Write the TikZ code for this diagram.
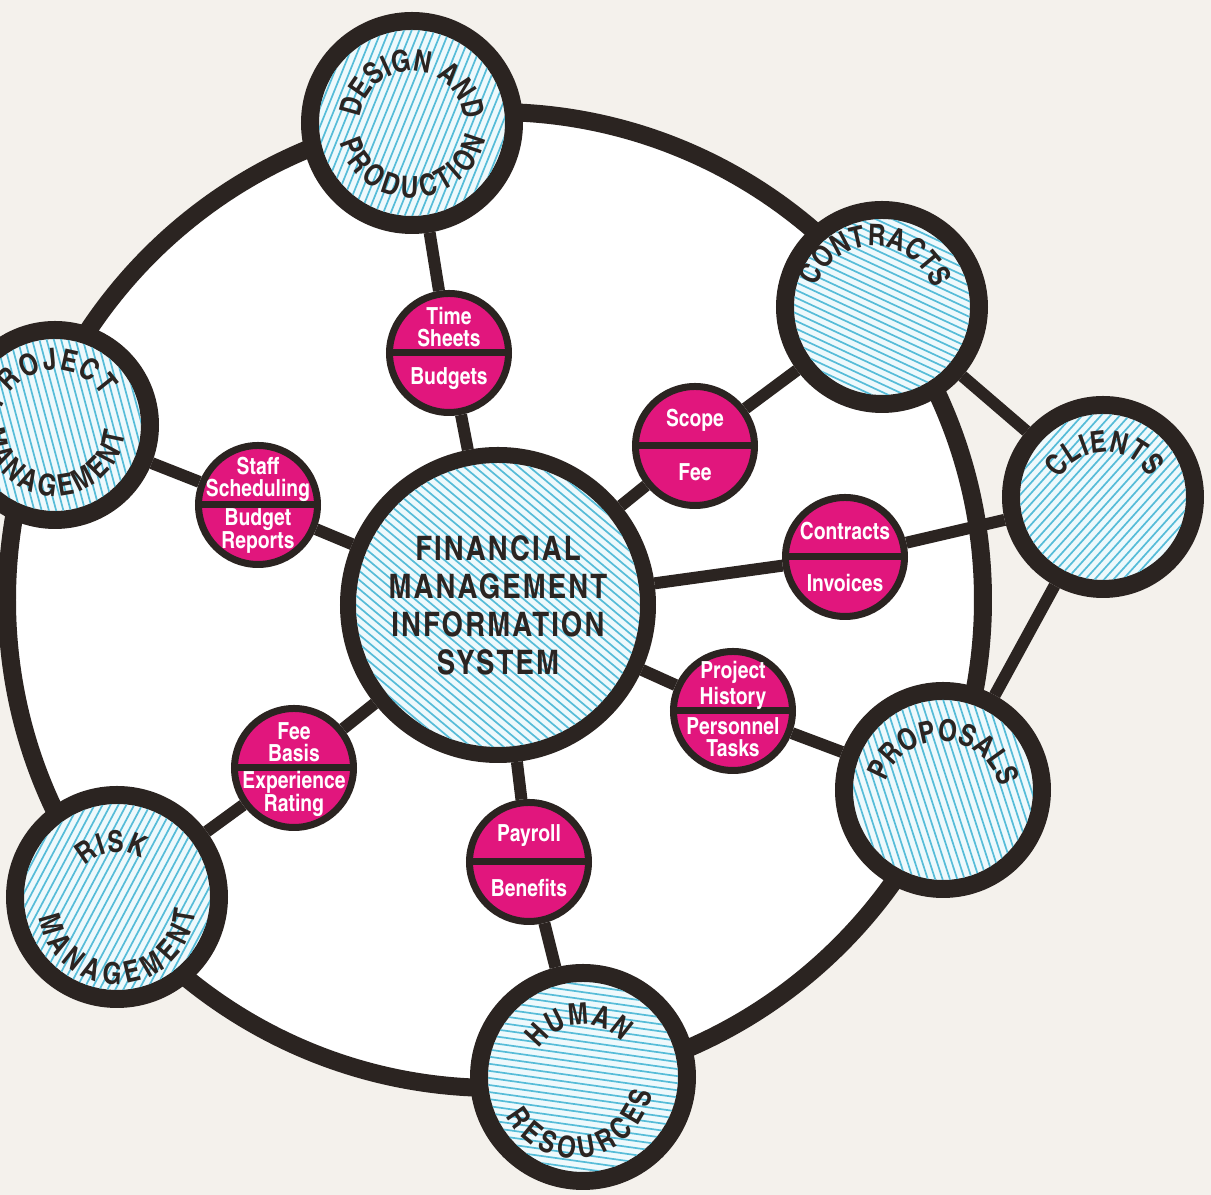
\documentclass[tikz,border=0pt]{standalone}
\usepackage{fontspec}
\usepackage{tikz}
\usetikzlibrary{decorations.text}
\definecolor{ink}{RGB}{43,36,33}
\definecolor{tagpink}{RGB}{225,22,125}
\definecolor{hatch}{RGB}{86,188,216}
\definecolor{hatchbg}{RGB}{238,249,252}
\definecolor{paper}{RGB}{244,241,236}
\newfontfamily\cnbold{texgyreheroscn-bold.otf}
\newfontfamily\cnwide{texgyreheroscn-bold.otf}[LetterSpace=6]
\newcommand\arcfont{\cnbold\fontsize{8.5}{10}\selectfont\color{ink}}
% stripes inside a round node: node, angle, inner radius
\newcommand\hatchfill[3]{%
    \begin{scope}[shift={(#1.center)}, rotate=#2]
        \clip (0,0) circle[radius=#3];
        \foreach \k in {-24,...,24}
            \draw[hatch, line width=0.017cm] (-1.6,\k*0.07) -- (1.6,\k*0.07);
    \end{scope}}

\begin{document}
\begin{tikzpicture}[
    rim/.style={draw=ink, line width=0.18cm, fill=white},
    link/.style={draw=ink, line width=0.12cm},
    dept/.style={circle, draw=ink, line width=0.18cm, inner sep=0pt, fill=hatchbg},
    hub/.style={circle, draw=ink, line width=0.16cm, inner sep=0pt, minimum size=3cm, fill=hatchbg},
    hubtext/.style={text=ink, align=center, inner sep=0pt, font=\cnwide\fontsize{9.6}{10.8}\selectfont},
    tag/.style={circle, draw=ink, line width=0.07cm, fill=tagpink, minimum size=1.19cm, inner sep=0pt},
    tagbar/.style={draw=ink, line width=0.07cm},
    tagtext/.style={text=white, align=center, inner sep=0pt, font=\cnbold\fontsize{6.7}{6.3}\selectfont},
    uptxt/.style={tagtext, yshift=0.26cm},
    lowtxt/.style={tagtext, yshift=-0.26cm},
    arclabel/.style={decorate, decoration={text along path, text={|\arcfont|#1}, text align=fit to path}}
]
        \useasboundingbox (0,0) rectangle (12.11,11.95);
        \fill[paper] (0,0) rectangle (12.11,11.95);

        % Outer ring
        \draw[rim] (4.95,5.95) circle[radius=4.88];

        % Nodes
        \node[hub] (FMIS) at (4.98, 5.90) {};

        \node[dept, minimum size=2.04cm] (DP) at (4.12, 10.72) {};
        \node[dept, minimum size=1.94cm] (CT) at (8.82, 8.88) {};
        \node[dept, minimum size=1.84cm] (CL) at (11.03, 6.98) {};
        \node[dept, minimum size=1.98cm] (PR) at (9.43, 4.05) {};
        \node[dept, minimum size=2.08cm] (HR) at (5.83, 1.18) {};
        \node[dept, minimum size=2.04cm] (RM) at (1.17, 2.98) {};
        \node[dept, minimum size=1.90cm] (PM) at (0.55, 7.70) {};

        \hatchfill{FMIS}{-40}{1.42}
        \hatchfill{DP}{68}{0.93}
        \hatchfill{CT}{-25}{0.88}
        \hatchfill{CL}{48}{0.83}
        \hatchfill{PR}{-72}{0.90}
        \hatchfill{HR}{-8}{0.95}
        \hatchfill{RM}{62}{0.93}
        \hatchfill{PM}{-75}{0.86}

        \node[hubtext] (FMIStxt) at (FMIS) {FINANCIAL\\MANAGEMENT\\INFORMATION\\SYSTEM};

        \node[tag] (TS) at (4.49, 8.42) {};
        \node[tag] (SS) at (2.58, 6.90) {};
        \node[tag] (SF) at (6.95, 7.49) {};
        \node[tag] (CI) at (8.45, 6.38) {};
        \node[tag] (PH) at (7.33, 4.84) {};
        \node[tag] (FB) at (2.94, 4.27) {};
        \node[tag] (PB) at (5.29, 3.33) {};

        % Connectors
        \draw[link] (FMIS) -- (TS);
        \draw[link] (TS) -- (DP);
        \draw[link] (FMIS) -- (SS);
        \draw[link] (SS) -- (PM);
        \draw[link] (FMIS) -- (SF);
        \draw[link] (SF) -- (CT);
        \draw[link] (FMIS) -- (CI);
        \draw[link] (CI) -- (CL);
        \draw[link] (FMIS) -- (PH);
        \draw[link] (PH) -- (PR);
        \draw[link] (FMIS) -- (FB);
        \draw[link] (FB) -- (RM);
        \draw[link] (FMIS) -- (PB);
        \draw[link] (PB) -- (HR);
        \draw[link] (CT) -- (CL);
        \draw[link] (PR) -- (CL);

        % Split bars and texts of the small nodes
        \foreach \n in {TS, SS, SF, CI, PH, FB, PB}
            \draw[tagbar] (\n.west) -- (\n.east);

        \node[uptxt] (TSu) at (TS) {Time\\Sheets};
        \node[lowtxt] (TSl) at (TS) {Budgets};
        \node[uptxt] (SSu) at (SS) {Staff\\Scheduling};
        \node[lowtxt] (SSl) at (SS) {Budget\\Reports};
        \node[uptxt] (SFu) at (SF) {Scope};
        \node[lowtxt] (SFl) at (SF) {Fee};
        \node[uptxt] (CIu) at (CI) {Contracts};
        \node[lowtxt] (CIl) at (CI) {Invoices};
        \node[uptxt] (PHu) at (PH) {Project\\History};
        \node[lowtxt] (PHl) at (PH) {Personnel\\Tasks};
        \node[uptxt] (FBu) at (FB) {Fee\\Basis};
        \node[lowtxt] (FBl) at (FB) {Experience\\Rating};
        \node[uptxt] (PBu) at (PB) {Payroll};
        \node[lowtxt] (PBl) at (PB) {Benefits};

        % Curved labels
        \coordinate (CTc) at (8.74, 8.87);
        \coordinate (CLc) at (11.05, 6.92);
        \coordinate (PRc) at (9.42, 3.95);
        \coordinate (HRc) at (5.75, 1.15);
        \coordinate (RMc) at (1.17, 2.90);

        \path[arclabel={DESIGN AND}] ([shift={(DP.center)}]174:0.52) arc[start angle=174, end angle=4, radius=0.52];
        \path[arclabel={PRODUCTION}] ([shift={(DP.center)}]195:0.75) arc[start angle=195, end angle=348, radius=0.75];
        \path[arclabel={CONTRACTS}] ([shift={(CTc)}]160:0.62) arc[start angle=160, end angle=18, radius=0.62];
        \path[arclabel={CLIENTS}] ([shift={(CLc)}]152:0.51) arc[start angle=152, end angle=30, radius=0.51];
        \path[arclabel={PROPOSALS}] ([shift={(PRc)}]162:0.59) arc[start angle=162, end angle=15, radius=0.59];
        \path[arclabel={HUMAN}] ([shift={(HR.center)}]147:0.52) arc[start angle=147, end angle=42, radius=0.52];
        \path[arclabel={RESOURCES}] ([shift={(HRc)}]208:0.78) arc[start angle=208, end angle=351, radius=0.78];
        \path[arclabel={RISK}] ([shift={(RM.center)}]136:0.45) arc[start angle=136, end angle=57, radius=0.45];
        \path[arclabel={MANAGEMENT}] ([shift={(RMc)}]189:0.79) arc[start angle=189, end angle=356, radius=0.79];
        \path[arclabel={PROJECT}] ([shift={(PM.center)}]163:0.55) arc[start angle=163, end angle=31, radius=0.55];
        \path[arclabel={MANAGEMENT}] ([shift={(PM.center)}]184:0.71) arc[start angle=184, end angle=354, radius=0.71];
\end{tikzpicture}
\end{document}
